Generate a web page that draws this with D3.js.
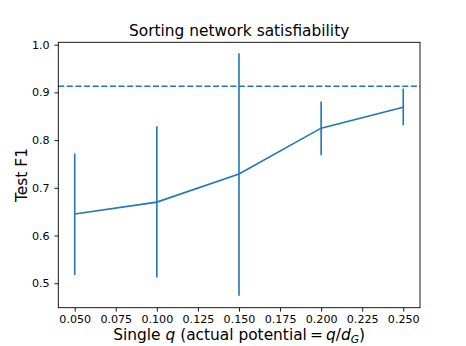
<!DOCTYPE html>
<html>
<head>
<meta charset="utf-8">
<script src="https://cdn.jsdelivr.net/npm/d3@7"></script>
<style>
  body { margin: 0; background: #fff; }
  svg { font-family: "DejaVu Sans", sans-serif; display: block; }
</style>
</head>
<body>
<div id="chart"></div>
<script>
// data
const qValues = [0.05, 0.10, 0.15, 0.20, 0.25];
const meanF1 = [0.645, 0.670, 0.729, 0.825, 0.869];
const lowF1 = [0.517, 0.512, 0.474, 0.768, 0.831];
const highF1 = [0.772, 0.829, 0.982, 0.881, 0.908];
const baselineF1 = 0.913;
const xTicks = [0.05, 0.075, 0.1, 0.125, 0.15, 0.175, 0.2, 0.225, 0.25];
const yTicks = [0.5, 0.6, 0.7, 0.8, 0.9, 1.0];

const width = 466, height = 346;
const margin = { left: 58.3, right: 46, top: 42.3, bottom: 38.3 };
const color = '#1f77b4';

const svg = d3.select('#chart').append('svg')
    .attr('width', width)
    .attr('height', height);

const x = d3.scaleLinear().domain([0.04, 0.2602]).range([margin.left, width - margin.right]);
const y = d3.scaleLinear().domain([0.4487, 1.005]).range([height - margin.bottom, margin.top]);

const rows = qValues.map((q, i) => ({ q: q, mean: meanF1[i], lo: lowF1[i], hi: highF1[i] }));

// baseline dashed line
svg.append('line')
    .attr('x1', x.range()[0]).attr('x2', x.range()[1])
    .attr('y1', y(baselineF1)).attr('y2', y(baselineF1))
    .attr('stroke', color)
    .attr('stroke-width', 1.6)
    .attr('stroke-dasharray', '6,2.6');

// error bars
svg.selectAll('.err')
    .data(rows)
    .enter().append('line')
    .attr('class', 'err')
    .attr('x1', d => x(d.q)).attr('x2', d => x(d.q))
    .attr('y1', d => y(d.lo)).attr('y2', d => y(d.hi))
    .attr('stroke', color)
    .attr('stroke-width', 1.6);

// mean line
svg.append('path')
    .datum(rows)
    .attr('fill', 'none')
    .attr('stroke', color)
    .attr('stroke-width', 1.6)
    .attr('d', d3.line().x(d => x(d.q)).y(d => y(d.mean)));

// axes
const xAxis = svg.append('g')
    .attr('transform', `translate(0,${height - margin.bottom})`)
    .call(d3.axisBottom(x).tickValues(xTicks).tickFormat(d3.format('.3f')).tickSize(3.9).tickPadding(3.6).tickSizeOuter(0));
const yAxis = svg.append('g')
    .attr('transform', `translate(${margin.left},0)`)
    .call(d3.axisLeft(y).tickValues(yTicks).tickFormat(d3.format('.1f')).tickSize(3.9).tickPadding(4.8).tickSizeOuter(0));

[xAxis, yAxis].forEach(g => {
    g.select('.domain').remove();
    g.selectAll('line').attr('stroke', '#000').attr('stroke-width', 0.9);
    g.selectAll('text').attr('fill', '#000').style('font-size', '11.1px').style('font-family', '"DejaVu Sans", sans-serif');
});

// frame
svg.append('rect')
    .attr('x', x.range()[0]).attr('y', y.range()[1])
    .attr('width', x.range()[1] - x.range()[0])
    .attr('height', y.range()[0] - y.range()[1])
    .attr('fill', 'none')
    .attr('stroke', '#000')
    .attr('stroke-width', 0.9);

const cx = (x.range()[0] + x.range()[1]) / 2;

// title
svg.append('text')
    .attr('x', cx).attr('y', 36)
    .attr('text-anchor', 'middle')
    .style('font-size', '15.4px')
    .text('Sorting network satisfiability');

// x label with math parts
const xl = svg.append('text')
    .attr('x', cx).attr('y', 339.5)
    .attr('text-anchor', 'middle')
    .style('font-size', '15.4px');
xl.append('tspan').text('Single ');
xl.append('tspan').attr('font-style', 'italic').text('q');
xl.append('tspan').text(' (actual potential\u2009=\u2009');
xl.append('tspan').attr('font-style', 'italic').text('q');
xl.append('tspan').text('/');
xl.append('tspan').attr('font-style', 'italic').text('d');
xl.append('tspan').attr('font-style', 'italic').attr('dy', 3).style('font-size', '10.8px').text('G');
xl.append('tspan').attr('dy', -3).text(')');

// y label
svg.append('text')
    .attr('transform', `translate(26.5,${(y.range()[0] + y.range()[1]) / 2}) rotate(-90)`)
    .attr('text-anchor', 'middle')
    .style('font-size', '15.4px')
    .text('Test F1');
</script>
</body>
</html>
